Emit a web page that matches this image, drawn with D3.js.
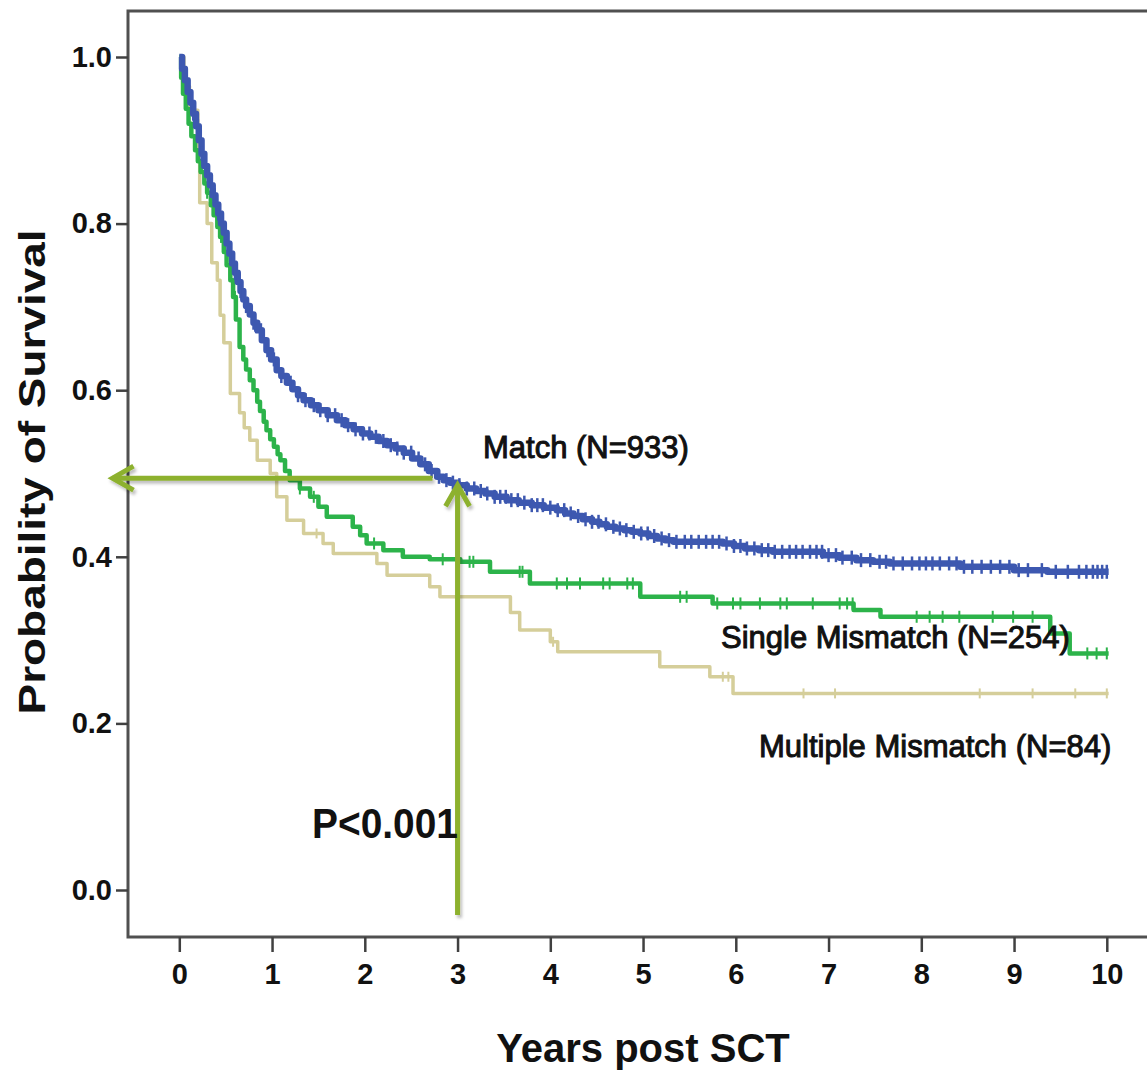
<!DOCTYPE html>
<html>
<head>
<meta charset="utf-8">
<script src="https://cdn.jsdelivr.net/npm/d3@7"></script>
<style>
  html, body { margin: 0; padding: 0; background: #fff; }
  svg { display: block; }
  text { font-family: "Liberation Sans", Arial, sans-serif; fill: #111; }
</style>
</head>
<body>
<svg id="chart" width="1147" height="1070"></svg>
<script>
// ---------- data ----------
const xTicks = [0,1,2,3,4,5,6,7,8,9,10];
const yTicks = [0.0,0.2,0.4,0.6,0.8,1.0];

// Match (N=933): [years, survival]
const matchCurve = [
  [0,1.0],[0.03,0.986],[0.06,0.972],[0.09,0.958],[0.12,0.945],[0.15,0.932],[0.18,0.917],[0.21,0.900],
  [0.24,0.884],[0.27,0.869],[0.30,0.858],[0.33,0.846],[0.36,0.834],[0.39,0.823],[0.42,0.812],[0.45,0.800],
  [0.48,0.789],[0.51,0.776],[0.54,0.764],[0.57,0.752],[0.60,0.741],[0.63,0.730],[0.66,0.719],[0.69,0.709],
  [0.72,0.701],[0.76,0.691],[0.80,0.681],[0.84,0.672],[0.89,0.660],[0.94,0.648],[0.99,0.637],[1.05,0.624],
  [1.10,0.617],[1.16,0.609],[1.22,0.601],[1.28,0.594],[1.34,0.588],[1.42,0.582],[1.50,0.576],[1.60,0.570],
  [1.70,0.564],[1.79,0.558],[1.88,0.553],[1.97,0.548],[2.06,0.544],[2.15,0.539],[2.24,0.534],[2.33,0.530],
  [2.42,0.525],[2.51,0.518],[2.60,0.511],[2.69,0.503],[2.78,0.496],[2.85,0.492],[2.92,0.489],[3.00,0.486],
  [3.10,0.482],[3.20,0.479],[3.30,0.476],[3.40,0.472],[3.53,0.468],[3.66,0.465],[3.80,0.462],[3.93,0.459],
  [4.07,0.456],[4.16,0.452],[4.25,0.449],[4.35,0.445],[4.45,0.442],[4.53,0.439],[4.61,0.436],[4.70,0.434],
  [4.80,0.432],[4.88,0.430],[4.97,0.428],[5.06,0.425],[5.15,0.422],[5.24,0.420],[5.33,0.418],[5.86,0.416],
  [5.98,0.413],[6.10,0.410],[6.25,0.408],[6.40,0.406],[6.94,0.402],[7.12,0.399],[7.30,0.396],[7.48,0.394],
  [7.66,0.392],[8.42,0.388],[9.00,0.384],[9.36,0.382],[10.02,0.382]
];
const matchCensor = [0.15,0.2,0.24,0.28,0.31,0.35,0.38,0.42,0.46,0.5,0.55,0.6,0.66,0.72,0.8,0.88,
  0.95,1.02,1.1,1.2,1.28,1.36,1.45,1.52,1.6,1.68,1.75,1.82,1.9,1.98,2.05,2.12,2.2,2.28,2.35,2.42,
  2.5,2.58,2.65,2.72,2.8,2.88,2.95,3.02,3.1,3.18,3.25,3.32,3.4,3.46,3.52,3.58,3.65,3.72,3.8,3.86,
  3.92,4.0,4.08,4.15,4.22,4.3,4.38,4.45,4.52,4.6,4.68,4.75,4.82,4.9,4.98,5.05,5.12,5.2,5.28,5.36,
  5.45,5.52,5.6,5.68,5.75,5.82,5.9,5.98,6.05,6.12,6.2,6.28,6.35,6.42,6.5,6.58,6.65,6.72,6.8,6.87,
  6.93,7.0,7.08,7.15,7.25,7.35,7.45,7.55,7.62,7.7,7.8,7.9,7.98,8.05,8.12,8.2,8.3,8.38,8.46,8.55,
  8.65,8.75,8.85,8.95,9.05,9.15,9.3,9.45,9.58,9.7,9.78,9.85,9.9,9.95,10.0];

// Single Mismatch (N=254)
const singleCurve = [
  [0,1.0],[0.02,0.975],[0.04,0.956],[0.07,0.938],[0.10,0.920],[0.13,0.905],[0.17,0.888],[0.20,0.875],
  [0.23,0.862],[0.27,0.848],[0.30,0.837],[0.34,0.822],[0.37,0.810],[0.41,0.796],[0.44,0.784],[0.48,0.766],
  [0.51,0.750],[0.55,0.732],[0.58,0.712],[0.61,0.685],[0.65,0.652],[0.69,0.637],[0.72,0.625],[0.76,0.612],
  [0.80,0.600],[0.84,0.586],[0.87,0.575],[0.91,0.562],[0.94,0.552],[0.98,0.541],[1.02,0.532],[1.06,0.523],
  [1.09,0.516],[1.14,0.503],[1.19,0.492],[1.30,0.482],[1.41,0.472],[1.50,0.460],[1.59,0.448],[1.87,0.436],
  [1.95,0.426],[2.02,0.416],[2.20,0.408],[2.41,0.400],[2.70,0.397],[3.03,0.394],[3.35,0.382],[3.78,0.368],
  [4.97,0.352],[5.75,0.344],[7.27,0.336],[7.56,0.328],[9.39,0.308],[9.60,0.284],[10.02,0.284]
];
const singleCensor = [0.3,0.45,0.6,1.3,1.45,2.1,2.84,3.13,3.17,3.67,3.70,4.07,4.18,4.32,4.57,4.64,4.83,4.89,5.40,5.47,5.80,
  5.97,6.05,6.26,6.48,6.55,6.83,7.12,7.20,7.26,7.95,8.09,8.23,8.41,8.77,8.99,9.20,9.79,9.89,10.0];

// Multiple Mismatch (N=84)
const multipleCurve = [
  [0,1.0],[0.05,0.965],[0.11,0.936],[0.20,0.876],[0.22,0.825],[0.30,0.800],[0.35,0.753],
  [0.41,0.732],[0.44,0.690],[0.48,0.657],[0.55,0.596],[0.65,0.573],[0.70,0.555],[0.76,0.540],
  [0.84,0.516],[0.98,0.500],[1.05,0.472],[1.16,0.444],[1.34,0.428],[1.55,0.416],[1.66,0.404],
  [2.13,0.392],[2.24,0.378],[2.70,0.364],[2.81,0.352],[3.57,0.333],[3.67,0.312],[4.00,0.298],
  [4.08,0.286],[5.18,0.268],[5.72,0.256],[5.97,0.236],[10.02,0.236]
];
const multipleCensor = [1.48,4.03,5.86,5.92,6.73,7.07,8.63,9.20,9.66,10.0];

const seriesNames = ["Match (N=933)","Single Mismatch (N=254)","Multiple Mismatch (N=84)"];
const seriesColors = ["#3d58b0","#2cb34a","#d5ce9a"];

// annotation values
const refYear = 3;
const refSurvival = 0.486;
const pText = "P<0.001";

// ---------- drawing ----------
const svg = d3.select("#chart");
const x = d3.scaleLinear().domain([0,10]).range([179.3,1106.8]);
const y = d3.scaleLinear().domain([0,1]).range([890,57]);

const defs = svg.append("defs");
const f = defs.append("filter").attr("id","shadow").attr("x","-20%").attr("y","-20%").attr("width","140%").attr("height","140%");
f.append("feDropShadow").attr("dx",2).attr("dy",3).attr("stdDeviation",1.5).attr("flood-color","#000").attr("flood-opacity",0.25);

// frame
svg.append("rect").attr("x",128).attr("y",11).attr("width",1100).attr("height",926)
  .attr("fill","none").attr("stroke","#505050").attr("stroke-width",3);

// axes
const xAxis = d3.axisBottom(x).tickValues(xTicks).tickSize(15).tickPadding(10).tickFormat(d3.format("d"));
const gx = svg.append("g").attr("transform","translate(0,937)").call(xAxis);
gx.select(".domain").remove();
gx.selectAll("line").attr("stroke","#404040").attr("stroke-width",2.5);
gx.selectAll("text").attr("font-size",29).attr("font-weight","bold").attr("fill","#111")
  .style("font-family","'Liberation Sans', Arial, sans-serif").attr("dy","0.75em");

const yAxis = d3.axisLeft(y).tickValues(yTicks).tickSize(12).tickPadding(4).tickFormat(d3.format(".1f"));
const gy = svg.append("g").attr("transform","translate(128,0)").call(yAxis);
gy.select(".domain").remove();
gy.selectAll("line").attr("stroke","#404040").attr("stroke-width",2.5);
gy.selectAll("text").attr("font-size",29).attr("font-weight","bold").attr("fill","#111")
  .style("font-family","'Liberation Sans', Arial, sans-serif");

// axis titles
svg.append("text").attr("x",643).attr("y",1062).attr("text-anchor","middle")
  .attr("font-size",40).attr("font-weight","bold").text("Years post SCT");
svg.append("text").attr("transform","translate(45,472) rotate(-90)").attr("text-anchor","middle")
  .attr("font-size",36).attr("font-weight","bold")
  .attr("textLength",485).attr("lengthAdjust","spacingAndGlyphs")
  .text("Probability of Survival");

// curves
const line = d3.line().x(d => x(d[0])).y(d => y(d[1])).curve(d3.curveStepAfter);
function survAt(curve, t){
  let v = curve[0][1];
  for (const p of curve){ if (p[0] <= t) v = p[1]; else break; }
  return v;
}
const series = [
  {curve: multipleCurve, censor: multipleCensor, color: seriesColors[2], w: 3.5, tick: 10, tw: 2},
  {curve: singleCurve, censor: singleCensor, color: seriesColors[1], w: 4.5, tick: 12, tw: 2},
  {curve: matchCurve, censor: matchCensor, color: seriesColors[0], w: 6.5, tick: 14, tw: 2.5}
];
series.forEach(s => {
  const g = svg.append("g");
  g.append("path").datum(s.curve).attr("d",line).attr("fill","none")
    .attr("stroke",s.color).attr("stroke-width",s.w).attr("stroke-linejoin","round");
  g.selectAll("line.c").data(s.censor).enter().append("line")
    .attr("x1",d => x(d)).attr("x2",d => x(d))
    .attr("y1",d => y(survAt(s.curve,d)) - s.tick/2)
    .attr("y2",d => y(survAt(s.curve,d)) + s.tick/2)
    .attr("stroke",s.color).attr("stroke-width",s.tw);
});

// labels
svg.append("text").attr("x",483).attr("y",458).attr("font-size",31)
  .attr("stroke","#111").attr("stroke-width",1).text(seriesNames[0]);
svg.append("text").attr("x",721).attr("y",648).attr("font-size",31)
  .attr("stroke","#111").attr("stroke-width",1).text(seriesNames[1]);
svg.append("text").attr("x",759).attr("y",757).attr("font-size",31)
  .attr("stroke","#111").attr("stroke-width",1).text(seriesNames[2]);

// arrows
const arrowColor = "#8db12e";
const ga = svg.append("g").attr("filter","url(#shadow)").attr("stroke",arrowColor)
  .attr("stroke-width",5).attr("fill","none").attr("stroke-linecap","butt");
const hy = y(refSurvival) - 7;
ga.append("line").attr("x1",x(refYear)-25).attr("x2",x(-0.72)).attr("y1",hy).attr("y2",hy);
ga.append("polyline").attr("points",[[x(-0.72)+21,hy-12],[x(-0.72),hy],[x(-0.72)+21,hy+12]].map(p=>p.join(",")).join(" "))
  .attr("stroke-linejoin","miter");
const vx = x(refYear);
const tipY = y(refSurvival);
ga.append("line").attr("x1",vx).attr("x2",vx).attr("y1",915).attr("y2",tipY);
ga.append("polyline").attr("points",[[vx-12,tipY+21],[vx,tipY],[vx+12,tipY+21]].map(p=>p.join(",")).join(" "))
  .attr("stroke-linejoin","miter");

// P value
svg.append("text").attr("x",312).attr("y",838).attr("font-size",42).attr("font-weight","bold")
  .attr("textLength",146).attr("lengthAdjust","spacingAndGlyphs").text(pText);
</script>
</body>
</html>
